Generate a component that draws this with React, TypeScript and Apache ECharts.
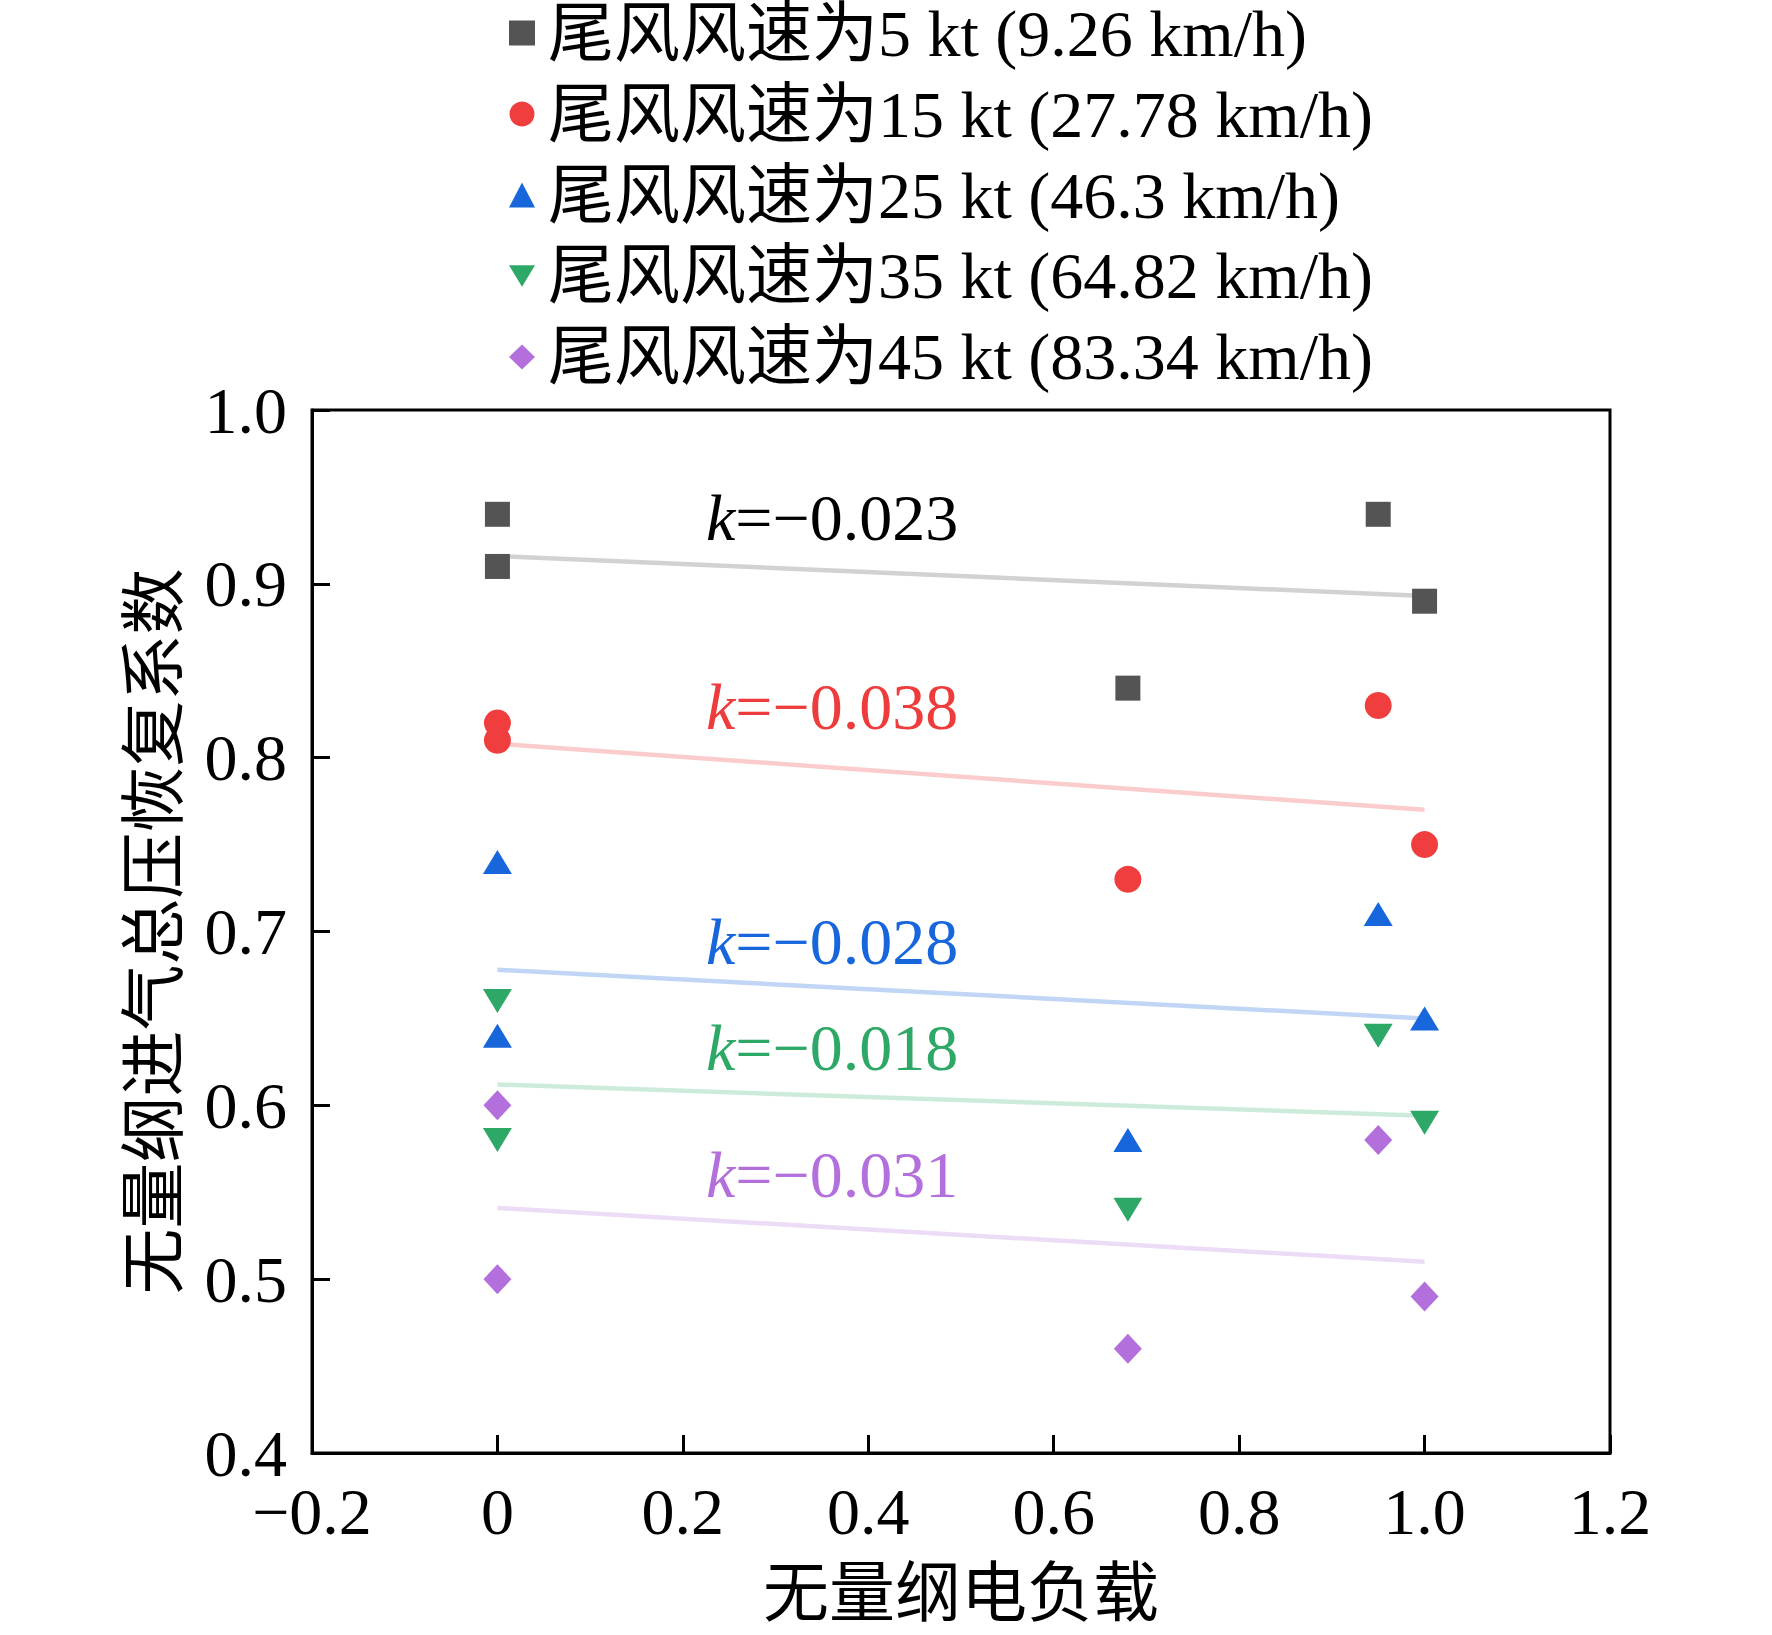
import React, { useEffect, useRef } from "react";
import * as echarts from "echarts";

// ---- data ----
const loadX = [0, 0, 0.68, 0.95, 1.0];
const recovery5kt = [0.94, 0.91, 0.84, 0.94, 0.89];
const recovery15kt = [0.82, 0.81, 0.73, 0.83, 0.75];
const recovery25kt = [0.74, 0.64, 0.58, 0.71, 0.65];
const recovery35kt = [0.66, 0.58, 0.54, 0.64, 0.59];
const recovery45kt = [0.6, 0.5, 0.46, 0.58, 0.49];

const fitX = [0, 1.0];
const fitStart = [0.916, 0.808, 0.678, 0.612, 0.541];
const fitEnd = [0.893, 0.77, 0.65, 0.594, 0.51];
const slopeTexts = ["−0.023", "−0.038", "−0.028", "−0.018", "−0.031"];

const seriesNames = [
  "尾风风速为5 kt (9.26 km/h)",
  "尾风风速为15 kt (27.78 km/h)",
  "尾风风速为25 kt (46.3 km/h)",
  "尾风风速为35 kt (64.82 km/h)",
  "尾风风速为45 kt (83.34 km/h)",
];
const allRecovery = [recovery5kt, recovery15kt, recovery25kt, recovery35kt, recovery45kt];

// ---- styles ----
const markerColors = ["#545454", "#f03d3d", "#1766db", "#2ea866", "#b370dc"];
const lineColors = ["#d2d2d2", "#fbcccc", "#c0d6f4", "#cdebdb", "#ecdcf7"];
const textColors = ["#000000", "#ee3c3c", "#1766db", "#2ea866", "#b370dc"];
const symbols = ["rect", "circle", "triangle", "path://M0,0 L10,0 L5,8.3 Z", "diamond"];
const symbolSizes: any[] = [25, 27, [29, 24], [29, 24], [28, 30]];
const annoY = [517, 706, 941, 1047, 1174];

const SERIF = "'Liberation Serif', 'Times New Roman', 'Noto Sans CJK SC', serif";
const FS = 66;

function fmt(v: number): string {
  if (Math.abs(v) < 1e-9) return "0";
  const s = v.toFixed(1);
  return s.replace("-", "−");
}

export default function App() {
  const ref = useRef<HTMLDivElement>(null);
  useEffect(() => {
    if (!ref.current) return;
    const chart = echarts.init(ref.current, null, { renderer: "svg" });

    const series: any[] = [];
    allRecovery.forEach((vals, i) => {
      series.push({
        type: "line",
        name: "fit" + i,
        data: fitX.map((x, j) => [x, j === 0 ? fitStart[i] : fitEnd[i]]),
        showSymbol: false,
        symbol: "none",
        lineStyle: { color: lineColors[i], width: 4.5 },
        z: 1,
        silent: true,
      });
    });
    allRecovery.forEach((vals, i) => {
      series.push({
        type: "scatter",
        name: seriesNames[i],
        data: loadX.map((x, j) => [x, vals[j]]),
        symbol: symbols[i],
        symbolSize: symbolSizes[i],
        itemStyle: { color: markerColors[i], opacity: 1 },
        z: 3,
      });
    });

    const graphic: any[] = slopeTexts.map((t, i) => ({
      type: "text",
      x: 706,
      y: annoY[i],
      z: 10,
      style: {
        text: "{i|k}=" + t,
        fill: textColors[i],
        fontSize: FS,
        fontFamily: SERIF,
        verticalAlign: "middle",
        rich: {
          i: { fontStyle: "italic", fontSize: FS, fontFamily: SERIF, fill: textColors[i] },
        },
      },
    }));

    const axisCommon = {
      axisTick: { show: true, inside: true, length: 18, lineStyle: { color: "#000", width: 3 } },
      splitLine: { show: false },
      nameTextStyle: { fontSize: FS, fontFamily: SERIF, color: "#000" },
    };

    chart.setOption({
      animation: false,
      backgroundColor: "#fff",
      grid: {
        left: 312,
        right: 162,
        top: 410,
        bottom: 182,
        show: true,
        borderColor: "#000",
        borderWidth: 3,
        containLabel: false,
      },
      legend: {
        data: seriesNames,
        orient: "vertical",
        left: 509,
        top: 0,
        padding: 0,
        itemWidth: 26,
        itemHeight: 25,
        itemGap: 15,
        textStyle: {
          fontSize: FS,
          fontFamily: SERIF,
          color: "#000",
          lineHeight: 60,
          padding: [0, 0, 0, 8],
        },
        selectedMode: false,
      },
      xAxis: {
        type: "value",
        min: -0.2,
        max: 1.2,
        interval: 0.2,
        name: "无量纲电负载",
        nameLocation: "middle",
        nameGap: 107,
        axisLine: { show: true, onZero: false, lineStyle: { color: "#000", width: 3 } },
        ...axisCommon,
        axisLabel: {
          fontSize: FS,
          fontFamily: SERIF,
          color: "#000",
          margin: 38,
          lineHeight: 40,
          formatter: (v: number) => fmt(v),
        },
      },
      yAxis: {
        type: "value",
        min: 0.4,
        max: 1.0,
        interval: 0.1,
        name: "无量纲进气总压恢复系数",
        nameLocation: "middle",
        nameGap: 125,
        axisLine: { show: true, onZero: false, lineStyle: { color: "#000", width: 3 } },
        ...axisCommon,
        axisLabel: {
          fontSize: FS,
          fontFamily: SERIF,
          color: "#000",
          margin: 25,
          lineHeight: 40,
          formatter: (v: number) => fmt(v),
        },
      },
      series,
      graphic,
    });
    return () => chart.dispose();
  }, []);

  return (
    <div
      ref={ref}
      style={{ position: "fixed", left: 0, top: 0, width: 1772, height: 1635, background: "#fff" }}
    />
  );
}
